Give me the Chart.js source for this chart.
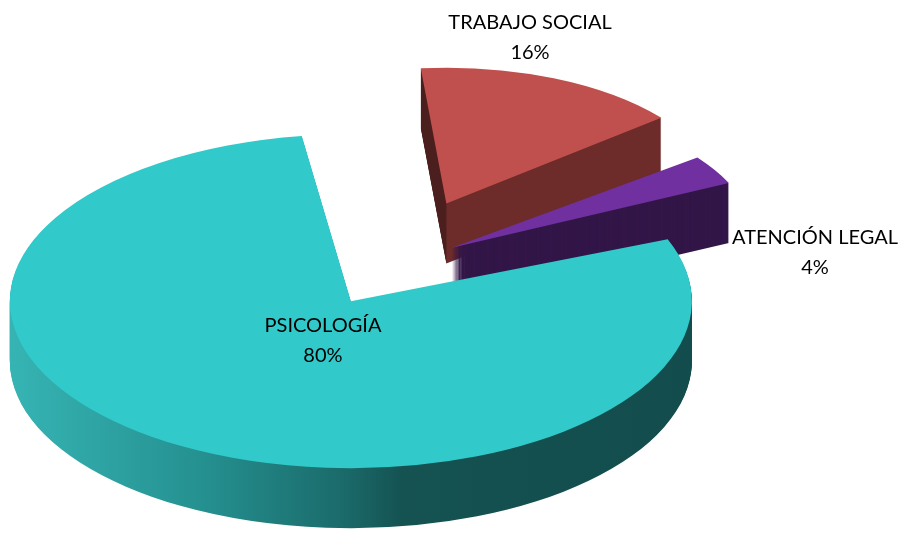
<!DOCTYPE html>
<html lang="es">
<head>
<meta charset="utf-8">
<script src="https://cdn.jsdelivr.net/npm/chart.js@4.4.1/dist/chart.umd.min.js"></script>
<style>
  html, body { margin: 0; padding: 0; background: #fff; }
</style>
</head>
<body>
<canvas id="grafico" width="901" height="540"></canvas>
<script>
// datos
const categorias = ['PSICOLOGÍA', 'TRABAJO SOCIAL', 'ATENCIÓN LEGAL'];
const porcentajes = [80, 16, 4];

// estilos
const coloresCara = ['#31c9c9', '#c0504d', '#7030a0'];
const separacion = [200, 320, 160];   // offset de cada porción (explosión)

// "3D": aplastar el círculo y darle grosor
const SX = 1.705, SY = 0.835, GROSOR = 60;
// etiqueta: [fracción del radio, ajuste x, ajuste y]
const POS_ETIQUETA = [[0.275, 19, 0], [1.329, -59, 0], [1.383, 0, 113]];

function colorLateral(ctx, i, arc, cx) {
  const m = (arc.startAngle + arc.endAngle) / 2;
  const tx = Math.cos(m) * (arc.options.offset || 0) / 4;   // el arco se dibuja ya trasladado
  const aUsuario = X => cx + (X - cx) / SX - tx;
  if (i === 0) {
    const g = ctx.createLinearGradient(aUsuario(10), 0, aUsuario(700), 0);
    g.addColorStop(0, '#36b4b4');
    g.addColorStop(0.28, '#259090');
    g.addColorStop(0.48, '#1b6b6b');
    g.addColorStop(0.57, '#155252');
    g.addColorStop(1, '#134c4c');
    return g;
  }
  if (i === 1) {
    const g = ctx.createLinearGradient(arc.x - 0.5, 0, arc.x + 0.5, 0);
    g.addColorStop(0, '#4b1f1e');
    g.addColorStop(1, '#6d2b2a');
    return g;
  }
  return '#331648';
}

const pastel3d = {
  id: 'pastel3d',
  beforeDatasetsDraw(chart) {
    const ctx = chart.ctx;
    const arcs = chart.getDatasetMeta(0).data;
    const cx = arcs[0].x, cy = arcs[0].y;
    ctx.save();
    ctx.translate(cx, cy);
    ctx.scale(SX, SY);
    ctx.translate(-cx, -cy);
    // caras laterales: de atrás hacia adelante
    [1, 2, 0].forEach(i => {
      const arc = arcs[i];
      const copia = Object.create(arc);
      copia.options = Object.assign({}, arc.options, {
        backgroundColor: colorLateral(ctx, i, arc, cx),
        borderWidth: 0
      });
      for (let k = GROSOR; k >= 1; k--) {
        ctx.save();
        ctx.translate(0, k / SY);
        arc.draw.call(copia, ctx);
        ctx.restore();
      }
    });
  },
  afterDatasetsDraw(chart) {
    chart.ctx.restore();
  },
  afterDraw(chart) {
    const ctx = chart.ctx;
    const arcs = chart.getDatasetMeta(0).data;
    const cx = arcs[0].x, cy = arcs[0].y;
    const total = porcentajes.reduce((a, b) => a + b, 0);
    ctx.save();
    ctx.font = '20px Lato';
    ctx.fillStyle = '#000';
    ctx.textAlign = 'center';
    ctx.textBaseline = 'middle';
    arcs.forEach((arc, i) => {
      const m = (arc.startAngle + arc.endAngle) / 2;
      const off = (arc.options.offset || 0) / 4;
      const fix = 1 - Math.sin(Math.min(Math.PI, arc.endAngle - arc.startAngle));
      const r = arc.outerRadius + off * fix;
      const d = off + POS_ETIQUETA[i][0] * r;
      const ux = arc.x + Math.cos(m) * d, uy = arc.y + Math.sin(m) * d;
      const X = cx + SX * (ux - cx) + POS_ETIQUETA[i][1];
      const Y = cy + SY * (uy - cy) + POS_ETIQUETA[i][2];
      ctx.fillText(categorias[i], X, Y - 15);
      ctx.fillText(Math.round(porcentajes[i] / total * 100) + '%', X, Y + 15);
    });
    ctx.restore();
  }
};

new Chart(document.getElementById('grafico'), {
  type: 'pie',
  data: {
    labels: categorias,
    datasets: [{
      data: porcentajes,
      backgroundColor: coloresCara,
      offset: separacion,
      borderWidth: 0,
      clip: false
    }]
  },
  options: {
    responsive: false,
    animation: false,
    events: [],
    rotation: 66,
    radius: 150,
    layout: { padding: { left: 0, right: 114, top: 0, bottom: 10 } },
    plugins: { legend: { display: false }, tooltip: { enabled: false } }
  },
  plugins: [pastel3d]
});
</script>
</body>
</html>
